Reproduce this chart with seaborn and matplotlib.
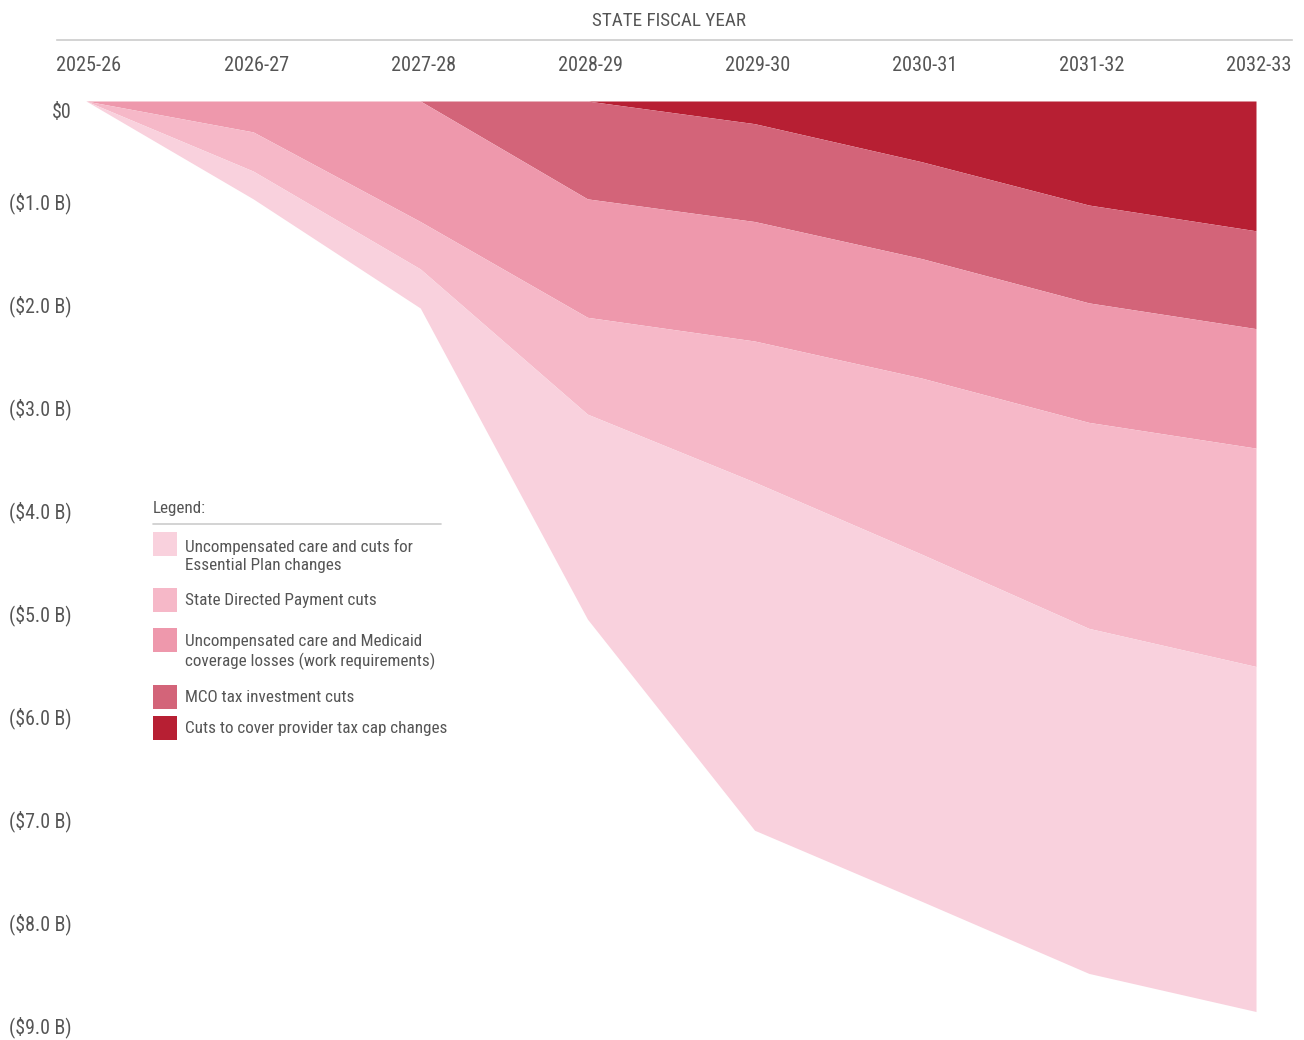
import numpy as np
import pandas as pd
import matplotlib
matplotlib.use("Agg")
import matplotlib.pyplot as plt
import matplotlib.font_manager as fm
from matplotlib.patches import Rectangle
from matplotlib.lines import Line2D
from matplotlib.transforms import ScaledTranslation
import seaborn as sns

# ---------------- data (billions of dollars, shown as cuts) ----------------
years = ["2025-26", "2026-27", "2027-28", "2028-29",
         "2029-30", "2030-31", "2031-32", "2032-33"]
essential_plan = [0.00, 0.27, 0.38, 1.99, 3.38, 3.37, 3.35, 3.35]
state_directed = [0.00, 0.38, 0.46, 0.94, 1.37, 1.71, 2.00, 2.12]
work_requirements = [0.00, 0.30, 1.17, 1.15, 1.16, 1.16, 1.16, 1.16]
mco_tax = [0.00, 0.00, 0.00, 0.95, 0.95, 0.94, 0.95, 0.95]
provider_tax = [0.00, 0.00, 0.00, 0.00, 0.22, 0.59, 1.01, 1.26]

legend_labels = [
    "Uncompensated care and cuts for\nEssential Plan changes",
    "State Directed Payment cuts",
    "Uncompensated care and Medicaid\ncoverage losses (work requirements)",
    "MCO tax investment cuts",
    "Cuts to cover provider tax cap changes",
]
legend_colors = ["#F9D1DD", "#F6B8C8", "#EE98AC", "#D36479", "#B71F33"]

y_ticks = [0, 1, 2, 3, 4, 5, 6, 7, 8, 9]
y_tick_labels = ["$0", "($1.0 B)", "($2.0 B)", "($3.0 B)", "($4.0 B)",
                 "($5.0 B)", "($6.0 B)", "($7.0 B)", "($8.0 B)", "($9.0 B)"]

df = pd.DataFrame({
    "year": years,
    "provider": provider_tax,
    "mco": mco_tax,
    "work": work_requirements,
    "sdp": state_directed,
    "ep": essential_plan,
})

# ---------------- style ----------------
sns.set_theme(style="white")
avail = {f.name for f in fm.fontManager.ttflist}
FONT = None
for cand in ["Liberation Sans Narrow", "Roboto Condensed", "DejaVu Sans Condensed",
             "Open Sans Condensed"]:
    if cand in avail:
        FONT = cand
        break
stretch = "normal"
if FONT is None:
    FONT = "DejaVu Sans"
    stretch = "condensed"
plt.rcParams["font.family"] = [FONT, "DejaVu Sans"]
plt.rcParams["font.stretch"] = stretch
TXT = "#555555"

W, H = 1304, 1040
fig = plt.figure(figsize=(W / 100, H / 100), dpi=100)
fig.patch.set_facecolor("white")

ax_left, ax_right = 57, 1292
ax_top, ax_bottom = 40, 1040
ax = fig.add_axes([ax_left / W, 1 - ax_bottom / H,
                   (ax_right - ax_left) / W, (ax_bottom - ax_top) / H])

x = np.arange(len(df))
ax.stackplot(x, df["provider"], df["mco"], df["work"], df["sdp"], df["ep"],
             colors=legend_colors[::-1], linewidth=0)

# pixel mapping: x index 0 at 86 px, 7 at 1256 px; value 0 at 101 px, 103 px per $1B
step = (1256 - 86) / 7
ax.set_xlim((ax_left - 86) / step, (ax_right - 86) / step)
ax.set_ylim((ax_bottom - 101) / 103, (ax_top - 101) / 103)

ax.xaxis.tick_top()
ax.set_xticks(x)
ax.set_xticklabels(years)
ax.tick_params(axis="x", length=0, pad=-25.5, labelsize=14.6, labelcolor=TXT)
for lb in ax.get_xticklabels():
    lb.set_transform(lb.get_transform() + ScaledTranslation(0.03, 0, fig.dpi_scale_trans))
ax.set_yticks(y_ticks)
ax.set_yticklabels(y_tick_labels)
ax.tick_params(axis="y", length=0, pad=-10.8, labelsize=14.3, labelcolor=TXT)
for i, lb in enumerate(ax.get_yticklabels()):
    dy = -0.09 if i == 0 else 0.03
    lb.set_transform(lb.get_transform() + ScaledTranslation(0, dy, fig.dpi_scale_trans))

for s in ["left", "right", "bottom"]:
    ax.spines[s].set_visible(False)
ax.spines["top"].set_color("#cccccc")
ax.spines["top"].set_linewidth(1.2)
ax.grid(False)
ax.set_facecolor("none")

fig.text(669 / W, 1 - 21 / H, "STATE FISCAL YEAR", ha="center", va="center",
         fontsize=13.8, color=TXT)

# ---------------- legend ----------------
def fy(py):
    return 1 - py / H

fig.text(153 / W, fy(508), "Legend:", ha="left", va="center", fontsize=12.3, color=TXT)
fig.add_artist(Line2D([153 / W, 441 / W], [fy(524), fy(524)], color="#cccccc", lw=1.2))
patch_tops = [532, 588, 628, 685, 716]
text_centers = [556, 600, 652, 697, 728]
for col, lab, pt, tc in zip(legend_colors, legend_labels, patch_tops, text_centers):
    fig.add_artist(Rectangle((153 / W, fy(pt + 24)), 24 / W, 24 / H,
                             facecolor=col, edgecolor="none", transform=fig.transFigure))
    fig.text(185 / W, fy(tc), lab, ha="left", va="center", fontsize=12.3,
             color=TXT, linespacing=1.22)

fig.savefig("out.png", dpi=100, facecolor="white")
